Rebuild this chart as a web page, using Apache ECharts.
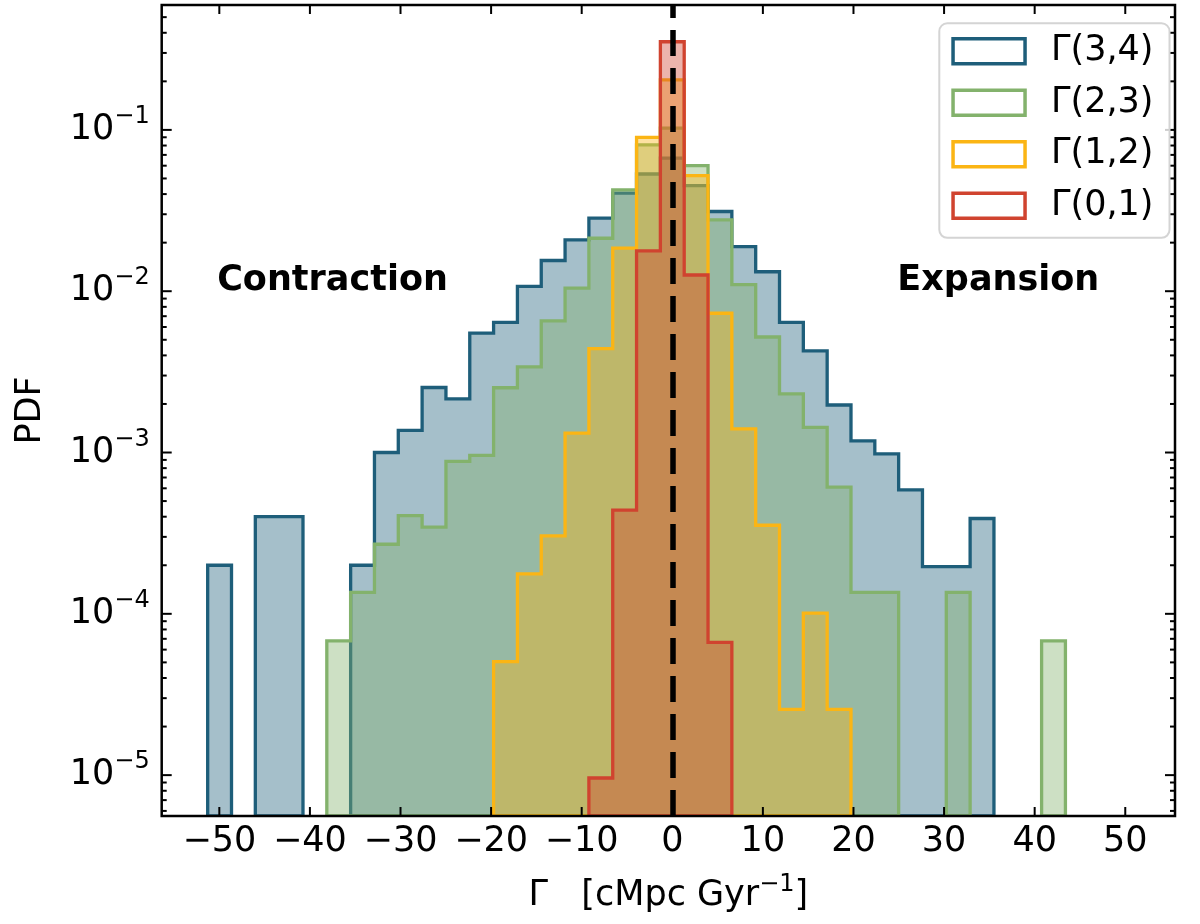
<!DOCTYPE html>
<html>
<head>
<meta charset="utf-8">
<script src="https://cdn.jsdelivr.net/npm/echarts@6/dist/echarts.min.js"></script>
<style>html,body{margin:0;padding:0;background:#fff}#c{width:1200px;height:924px}</style>
</head>
<body>
<div id="c"></div>
<script>
// ---- data ----
const seriesNames = ['Γ(3,4)', 'Γ(2,3)', 'Γ(1,2)', 'Γ(0,1)'];
const binWidth = 2.63;
const binCenters = [-49.97, -47.34, -44.71, -42.08, -39.45, -36.82, -34.19, -31.56, -28.93, -26.30,
  -23.67, -21.04, -18.41, -15.78, -13.15, -10.52, -7.89, -5.26, -2.63, 0,
  2.63, 5.26, 7.89, 10.52, 13.15, 15.78, 18.41, 21.04, 23.67, 26.30,
  28.93, 31.56, 34.19, 36.82, 39.45, 42.08];
const pdf34 = [2.0e-4, 0, 4.0e-4, 4.0e-4, 0, 0, 2.0e-4, 1.0e-3, 1.37e-3, 2.53e-3,
  2.15e-3, 5.5e-3, 6.4e-3, 1.07e-2, 1.55e-2, 2.08e-2, 2.84e-2, 4.05e-2, 5.33e-2, 6.68e-2,
  4.52e-2, 3.12e-2, 1.89e-2, 1.32e-2, 6.4e-3, 4.27e-3, 1.97e-3, 1.18e-3, 9.8e-4, 5.86e-4,
  1.96e-4, 1.96e-4, 3.9e-4, 0, 0, 0];
const pdf23 = [0, 0, 0, 0, 0, 6.8e-5, 1.36e-4, 2.7e-4, 4.06e-4, 3.45e-4,
  8.8e-4, 9.6e-4, 2.52e-3, 3.4e-3, 6.55e-3, 1.045e-2, 2.13e-2, 4.25e-2, 8.07e-2, 0.1026,
  6.0e-2, 2.77e-2, 1.1e-2, 5.2e-3, 2.31e-3, 1.43e-3, 6.1e-4, 1.36e-4, 1.36e-4, 0,
  0, 1.36e-4, 0, 0, 0, 6.8e-5];
const pdf12 = [0, 0, 0, 0, 0, 0, 0, 0, 0, 0,
  0, 0, 5.05e-5, 1.77e-4, 3.04e-4, 1.32e-3, 4.4e-3, 1.85e-2, 9.0e-2, 0.204,
  5.2e-2, 7.3e-3, 1.4e-3, 3.54e-4, 2.56e-5, 1.01e-4, 2.56e-5, 0, 0, 0,
  0, 0, 0, 0, 0, 0];
const pdf01 = [0, 0, 0, 0, 0, 0, 0, 0, 0, 0,
  0, 0, 0, 0, 0, 0, 9.6e-6, 4.4e-4, 1.78e-2, 0.352,
  1.26e-2, 6.65e-5, 0, 0, 0, 0, 0, 0, 0, 0,
  0, 0, 0, 0, 0, 0];
const xTickLabels = [-50, -40, -30, -20, -10, 0, 10, 20, 30, 40, 50];
const yTickLabels = [1e-5, 1e-4, 1e-3, 1e-2, 1e-1];
const yMinorTicks = [6e-6, 7e-6, 8e-6, 9e-6,
  2e-5, 3e-5, 4e-5, 5e-5, 6e-5, 7e-5, 8e-5, 9e-5,
  2e-4, 3e-4, 4e-4, 5e-4, 6e-4, 7e-4, 8e-4, 9e-4,
  2e-3, 3e-3, 4e-3, 5e-3, 6e-3, 7e-3, 8e-3, 9e-3,
  2e-2, 3e-2, 4e-2, 5e-2, 6e-2, 7e-2, 8e-2, 9e-2,
  2e-1, 3e-1, 4e-1, 5e-1];

// ---- styling ----
const lineColors = ['#1e5e7a', '#83b26c', '#fbb514', '#d0432f'];
const fillColors = ['rgba(30,94,122,0.4)', 'rgba(131,178,108,0.4)', 'rgba(251,181,20,0.4)', 'rgba(208,67,47,0.4)'];
const allValues = [pdf34, pdf23, pdf12, pdf01];
const X_MIN = -56.36, X_MAX = 55.49, Y_MIN = 5.58e-6, Y_MAX = 0.5947;
const FONT = 'DejaVu Sans';
const MINUS = '\u2212';

function histRender(values, si) {
  return function (params, api) {
    if (params.dataIndex !== 0) return null;
    const children = [];
    const n = binCenters.length;
    let i = 0;
    while (i < n) {
      if (!(values[i] > 0)) { i++; continue; }
      const pts = [api.coord([binCenters[i] - binWidth / 2, Y_MIN])];
      let j = i;
      while (j < n && values[j] > 0) {
        pts.push(api.coord([binCenters[j] - binWidth / 2, values[j]]));
        pts.push(api.coord([binCenters[j] + binWidth / 2, values[j]]));
        j++;
      }
      pts.push(api.coord([binCenters[j - 1] + binWidth / 2, Y_MIN]));
      children.push({
        type: 'polygon',
        shape: { points: pts },
        style: { fill: fillColors[si], stroke: lineColors[si], lineWidth: 3.3, lineJoin: 'miter' }
      });
      i = j;
    }
    return { type: 'group', children: children };
  };
}

function ticksRender(params, api) {
  if (params.dataIndex !== 0) return null;
  const ch = [];
  const st = { stroke: '#000', lineWidth: 2 };
  yTickLabels.forEach(v => {
    const l = api.coord([X_MIN, v]), r = api.coord([X_MAX, v]);
    ch.push({ type: 'line', shape: { x1: l[0], y1: l[1], x2: l[0] + 10, y2: l[1] }, style: st });
    ch.push({ type: 'line', shape: { x1: r[0], y1: r[1], x2: r[0] - 10, y2: r[1] }, style: st });
  });
  yMinorTicks.forEach(v => {
    const l = api.coord([X_MIN, v]), r = api.coord([X_MAX, v]);
    ch.push({ type: 'line', shape: { x1: l[0], y1: l[1], x2: l[0] + 5, y2: l[1] }, style: st });
    ch.push({ type: 'line', shape: { x1: r[0], y1: r[1], x2: r[0] - 5, y2: r[1] }, style: st });
  });
  xTickLabels.forEach(v => {
    const b = api.coord([v, Y_MIN]), t = api.coord([v, Y_MAX]);
    ch.push({ type: 'line', shape: { x1: b[0], y1: b[1], x2: b[0], y2: b[1] - 9 }, style: st });
    ch.push({ type: 'line', shape: { x1: t[0], y1: t[1], x2: t[0], y2: t[1] + 9 }, style: st });
  });
  return { type: 'group', children: ch };
}

const histSeries = seriesNames.map((name, si) => ({
  name: name,
  type: 'custom',
  coordinateSystem: 'cartesian2d',
  clip: true,
  z: 2 + si,
  itemStyle: { color: lineColors[si] },
  data: binCenters.map((c, i) => [c, allValues[si][i]]).filter(d => d[1] > 0),
  renderItem: histRender(allValues[si], si)
}));

const chart = echarts.init(document.getElementById('c'));
chart.setOption({
  animation: false,
  backgroundColor: '#fff',
  textStyle: { fontFamily: FONT },
  grid: { left: 161.7, right: 25, top: 5, bottom: 107.5, show: true, borderColor: '#000', borderWidth: 2.5, backgroundColor: 'rgba(0,0,0,0)', z: 10 },
  xAxis: {
    type: 'value', min: X_MIN, max: X_MAX, splitNumber: 11,
    axisLine: { show: false }, axisTick: { show: false }, splitLine: { show: false },
    axisLabel: {
      fontSize: 35, color: '#000', fontFamily: FONT, margin: 8,
      customValues: xTickLabels,
      formatter: function (v) {
        if (Math.abs(v / 10 - Math.round(v / 10)) > 1e-6 || v < -50 || v > 50) return '';
        return v < 0 ? MINUS + Math.abs(v) : String(v);
      }
    },
    name: '{n|Γ   [cMpc Gyr}{s|' + MINUS + '1}{n|]}',
    nameLocation: 'middle', nameGap: 58,
    nameTextStyle: {
      rich: {
        n: { fontSize: 35, fontFamily: FONT, color: '#000', lineHeight: 44 },
        s: { fontSize: 24, fontFamily: FONT, color: '#000', lineHeight: 44, padding: [0, 0, 22, 0] }
      }
    }
  },
  yAxis: {
    type: 'log', logBase: 10, min: Y_MIN, max: Y_MAX, splitNumber: 5,
    axisLine: { show: false }, axisTick: { show: false }, splitLine: { show: false },
    minorTick: { show: false }, minorSplitLine: { show: false },
    axisLabel: {
      margin: 12, color: '#000',
      formatter: function (v) {
        const lg = Math.log10(v);
        const e = Math.round(lg);
        if (Math.abs(lg - e) > 1e-6) return '';
        return '{b|10}{s|' + (e < 0 ? MINUS : '') + Math.abs(e) + '}';
      },
      rich: {
        b: { fontSize: 35, fontFamily: FONT, color: '#000', lineHeight: 44 },
        s: { fontSize: 24, fontFamily: FONT, color: '#000', lineHeight: 44, padding: [0, 0, 26, 0] }
      }
    },
    name: 'PDF', nameLocation: 'middle', nameGap: 113,
    nameTextStyle: { fontSize: 35, fontFamily: FONT, color: '#000' }
  },
  legend: {
    orient: 'vertical', left: 939.3, top: 23.3,
    padding: [8, 16, 12, 12],
    itemWidth: 72, itemHeight: 25, itemGap: 11.5,
    icon: 'rect',
    backgroundColor: 'rgba(255,255,255,0.8)', borderColor: '#d4d4d4', borderWidth: 2, borderRadius: 8,
    textStyle: { fontSize: 35, color: '#000', fontFamily: FONT, lineHeight: 40, padding: [0, 0, 0, 21] },
    selectedMode: false,
    z: 40,
    data: seriesNames.map((n, i) => ({ name: n, itemStyle: { color: 'rgba(255,255,255,0)', borderColor: lineColors[i], borderWidth: 3.5 } }))
  },
  graphic: [
    { type: 'text', x: 332.5, y: 281, z: 30, style: { text: 'Contraction', textAlign: 'center', textVerticalAlign: 'middle', fontSize: 35, fontWeight: 'bold', fontFamily: FONT, fill: '#000' } },
    { type: 'text', x: 998.3, y: 281, z: 30, style: { text: 'Expansion', textAlign: 'center', textVerticalAlign: 'middle', fontSize: 35, fontWeight: 'bold', fontFamily: FONT, fill: '#000' } }
  ],
  series: histSeries.concat([
    {
      name: 'zero', type: 'line', data: [], z: 20, silent: true,
      markLine: {
        z: 20, silent: true, symbol: ['none', 'none'], label: { show: false },
        emphasis: { disabled: true },
        lineStyle: { color: '#000', width: 5.5, type: [26, 12], opacity: 1 },
        data: [{ xAxis: 0 }]
      }
    },
    {
      name: 'ticks', type: 'custom', coordinateSystem: 'cartesian2d', z: 21, silent: true,
      data: [[0, 1e-3]], renderItem: ticksRender
    }
  ])
});
</script>
</body>
</html>
